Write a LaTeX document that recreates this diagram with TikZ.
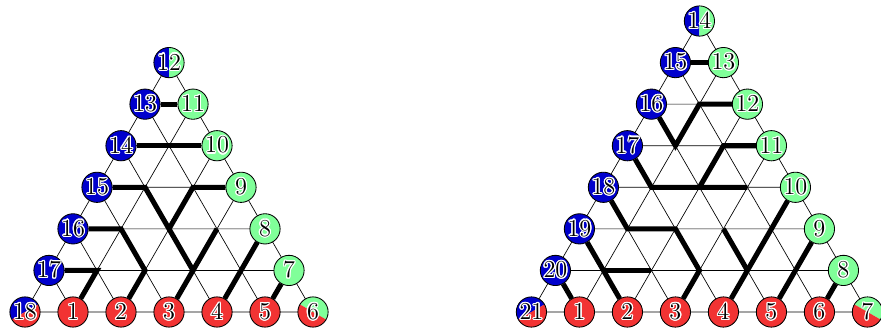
\documentclass[tikz,border=0pt]{standalone}
\usepackage{contour}
\contourlength{0.7pt}
\definecolor{cblue}{RGB}{0,0,204}
\definecolor{cred}{RGB}{242,51,51}
\definecolor{cgreen}{RGB}{128,255,153}

\begin{document}
\begin{tikzpicture}[
  lat/.style={line width=0.4pt},
  web/.style={line width=3pt},
  bead/.style={circle, draw, line width=0.5pt, minimum size=0.63cm, inner sep=0pt, font=\Large},
  bot/.style={bead, fill=cred},
  lft/.style={bead, fill=cblue},
  rgt/.style={bead, fill=cgreen},
  twotone/.style n args={3}{bead, path picture={
      \fill[#1] (path picture bounding box.center) -- ++(#3:1) arc[start angle=#3, delta angle=180, radius=1] -- cycle;
      \fill[#2] (path picture bounding box.center) -- ++(#3:1) arc[start angle=#3, delta angle=-180, radius=1] -- cycle;}}
  ]
  \useasboundingbox (-0.5208,-0.4375) rectangle (17.833,6.5);

  \foreach \t/\n/\dx in {L/6/0, R/7/10.55} {
    % lattice points
    \foreach \j in {0,...,\n} {
      \pgfmathtruncatemacro\m{\n-\j}
      \foreach \i in {0,...,\m}
        \coordinate (\t-\i-\j) at ({\dx+\i+0.5*\j},{0.866*\j});
    }
    % thin grid
    \pgfmathtruncatemacro\nn{\n-1}
    \foreach \k in {0,...,\nn} {
      \pgfmathtruncatemacro\m{\n-\k}
      \pgfmathtruncatemacro\p{\k+1}
      \draw[lat] (\t-0-\k) -- (\t-\m-\k) (\t-\k-0) -- (\t-\k-\m) (\t-\p-0) -- (\t-0-\p);
    }
    % beads on the sides
    \foreach \j in {1,...,\nn} {
      \pgfmathtruncatemacro\m{\n-\j}
      \pgfmathtruncatemacro\r{\n+\j}
      \pgfmathtruncatemacro\l{3*\n-\j}
      \node[bot] (\t\j) at (\t-\j-0) {\contour{white}{\j}};
      \node[rgt] (\t\r) at (\t-\m-\j) {\contour{white}{\r}};
      \node[lft] (\t\l) at (\t-0-\j) {\contour{white}{\l}};
    }
    % corners
    \pgfmathtruncatemacro\a{3*\n}
    \pgfmathtruncatemacro\b{2*\n}
    \node[twotone={cblue}{cred}{30}] (\t\a) at (\t-0-0) {\contour{white}{\a}};
    \node[twotone={cgreen}{cred}{-30}] (\t\n) at (\t-\n-0) {\contour{white}{\n}};
    \node[twotone={cblue}{cgreen}{90}] (\t\b) at (\t-0-\n) {\contour{white}{\b}};
  }

  % left web
  \draw[web] (L13) -- (L11);
  \draw[web] (L14) -- (L10);
  \draw[web] (L15) -- (L-1-3) -- (L-2-2) -- (L-3-1) -- (L3);
  \draw[web] (L9) -- (L-2-3) -- (L-2-2);
  \draw[web] (L-3-2) -- (L-3-1);
  \draw[web] (L16) -- (L-1-2) -- (L-2-1) -- (L2);
  \draw[web] (L17) -- (L-1-1) -- (L1);
  \draw[web] (L4) -- (L8);
  \draw[web] (L5) -- (L7);

  % right web
  \draw[web] (R15) -- (R13);
  \draw[web] (R16) -- (R-1-4) -- (R-1-5) -- (R12);
  \draw[web] (R11) -- (R-2-4) -- (R-2-3);
  \draw[web] (R17) -- (R-1-3) -- (R-3-3);
  \draw[web] (R18) -- (R-1-2) -- (R-2-2) -- (R-3-1) -- (R3);
  \draw[web] (R19) -- (R2);
  \draw[web] (R-1-1) -- (R-2-1);
  \draw[web] (R20) -- (R1);
  \draw[web] (R-3-2) -- (R-4-1);
  \draw[web] (R4) -- (R10);
  \draw[web] (R5) -- (R9);
  \draw[web] (R6) -- (R8);
\end{tikzpicture}
\end{document}
